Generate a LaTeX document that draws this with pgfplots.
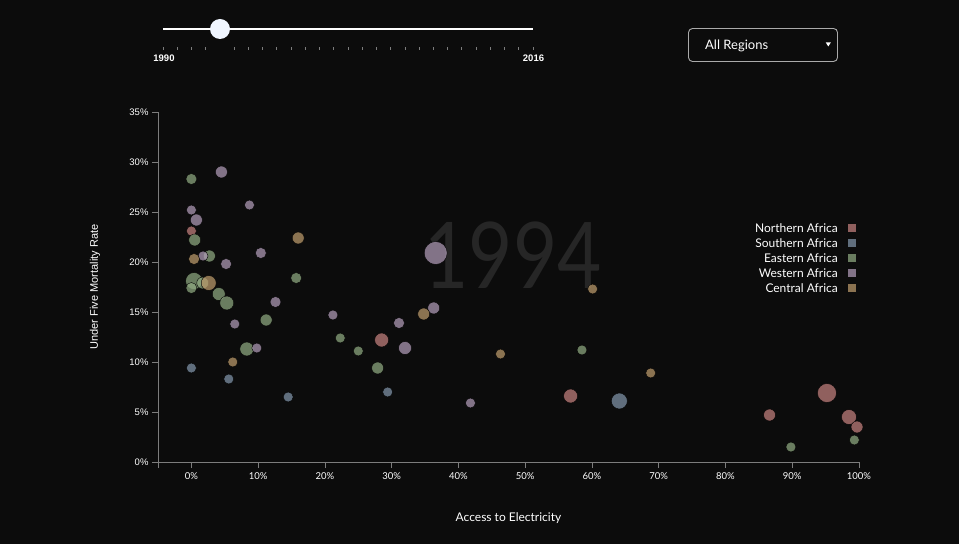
\documentclass[border=0pt]{standalone}
\usepackage{pgfplots}
\pgfplotsset{compat=1.18}
\usepackage{pgfplotstable}
\usepackage{fontspec}
\setmainfont{Lato}
\newfontfamily\arialf{Liberation Sans}
\definecolor{bg}{RGB}{12,12,12}
\definecolor{axgray}{RGB}{125,125,125}
\definecolor{boxgray}{RGB}{170,170,170}
\definecolor{knob}{RGB}{240,246,255}
\definecolor{cnorth}{RGB}{196,129,127}
\definecolor{csouth}{RGB}{129,149,169}
\definecolor{ceast}{RGB}{143,169,129}
\definecolor{cwest}{RGB}{176,156,183}
\definecolor{ccent}{RGB}{189,156,109}
\definecolor{yeargray}{RGB}{38,38,38}

\pgfplotstableread{
x y r
0 23.1 5
28.5 12.2 7
56.8 6.6 7
95.2 6.9 9.5
86.6 4.7 6
98.5 4.5 7.5
99.7 3.5 6
}\north
\pgfplotstableread{
x y r
0 9.4 5
5.6 8.3 5
14.5 6.5 5
29.4 7.0 5
64.1 6.1 8
}\south
\pgfplotstableread{
x y r
0 28.3 5.5
0.5 22.2 6
2.7 20.6 6
15.7 18.4 5.5
0.4 18.1 8.5
0 17.4 5.5
1.7 17.9 6
4.1 16.8 6.5
5.3 15.9 7
11.2 14.2 6
8.3 11.3 7
22.3 12.4 5
25.0 11.1 5
27.9 9.4 6
58.5 11.2 5
99.3 2.2 5
89.8 1.5 5
}\east
\pgfplotstableread{
x y r
4.5 29.0 6
8.7 25.7 5
0 25.2 5
0.75 24.2 6
10.4 20.9 5.5
1.75 20.6 5
5.2 19.8 5.5
12.6 16.0 5.5
6.5 13.8 5
9.8 11.4 5
36.6 20.9 11.5
21.2 14.7 5
36.3 15.4 6
31.1 13.9 5.5
32.0 11.4 6.5
41.8 5.9 5
}\west
\pgfplotstableread{
x y r
16.0 22.4 6
0.4 20.3 5.5
2.6 17.9 7.5
6.2 10.0 5
34.8 14.8 6
60.1 17.3 5
46.3 10.8 5
68.8 8.9 5
}\cent

\pgfplotsset{bub/.style={scatter, only marks, mark=*, point meta=x,
  scatter/use mapped color={draw=none, fill=#1, fill opacity=0.72},
  visualization depends on={\thisrow{r}\as\rr},
  scatter/@pre marker code/.append style={/tikz/mark size=\rr pt}}}

\begin{document}
\begin{tikzpicture}
\begin{scope}[x=1pt,y=1pt]
\fill[bg] (0,0) rectangle (959,544);
% slider
\draw[white, line width=2pt] (163,515) -- (533,515);
\foreach \i in {0,...,26} {\draw[axgray, line width=0.8pt] ({163+\i*370/26},496.5) -- ++(0,-3);}
\draw[bg, line width=0.8pt] ({163+4*370/26},496.5) -- ++(0,-3);
\fill[knob] (220,515) circle (10);
\node[font=\arialf\bfseries\fontsize{9.5}{10}\selectfont, text=white] at (164,485.5) {1990};
\node[font=\arialf\bfseries\fontsize{9.5}{10}\selectfont, text=white] at (533.5,485.5) {2016};
% dropdown
\draw[rounded corners=4pt, draw=boxgray, line width=0.9pt] (688.5,515.5) rectangle (837.5,482.5);
\node[anchor=west, text=white, font=\fontsize{13}{14}\selectfont, inner sep=0pt] at (705,498.5) {All Regions};
\fill[white] (825.8,501.5) -- (830.8,501.5) -- (828.3,497.5) -- cycle;
% legend
\foreach \t/\c [count=\k from 0] in {Northern Africa/cnorth, Southern Africa/csouth, Eastern Africa/ceast, Western Africa/cwest, Central Africa/ccent} {
  \node[anchor=east, text=white, font=\fontsize{12}{13}\selectfont, inner sep=0pt] at (838,{544-228-15*\k}) {\t};
  \fill[\c, fill opacity=0.72] (847.5,{544-228-15*\k-4}) rectangle ++(8,8);
}
\end{scope}
\begin{axis}[at={(158pt,82pt)}, anchor=south west, scale only axis,
  width=701pt, height=350pt,
  xmin=-5, xmax=100, ymin=0, ymax=35, clip=false,
  axis x line*=bottom, axis y line*=left,
  axis line style={draw=axgray, line width=0.8pt, -},
  xtick={0,10,...,100}, ytick={0,5,...,35},
  extra x ticks={-5}, extra x tick labels={},
  tick style={draw=axgray, line width=0.8pt},
  tick align=outside, major tick length=6pt,
  /pgf/number format/assume math mode=true,
  xticklabel={\pgfmathprintnumber{\tick}\%},
  yticklabel={\pgfmathprintnumber{\tick}\%},
  xticklabel style={font=\fontsize{9.5}{10}\selectfont, text=white, yshift=-1pt},
  yticklabel style={font=\arialf\fontsize{9.5}{10}\selectfont, text=white},
  xlabel={Access to Electricity}, ylabel={Under Five Mortality Rate},
  xlabel style={font=\fontsize{12}{13}\selectfont, text=white, at={(axis description cs:0.5,0)}, anchor=center, yshift=-56pt},
  ylabel style={font=\arialf\fontsize{11}{12}\selectfont, text=white, at={(axis description cs:-0.0899,0.5)}, anchor=center},
]
\node[font=\fontsize{92}{92}\selectfont, text=yeargray, xscale=0.83] at (axis cs:48.2,20.7) {1994};
\addplot[bub=cnorth] table {\north};
\addplot[bub=csouth] table {\south};
\addplot[bub=ceast] table {\east};
\addplot[bub=cwest] table {\west};
\addplot[bub=ccent] table {\cent};
\end{axis}
\end{tikzpicture}
\end{document}
